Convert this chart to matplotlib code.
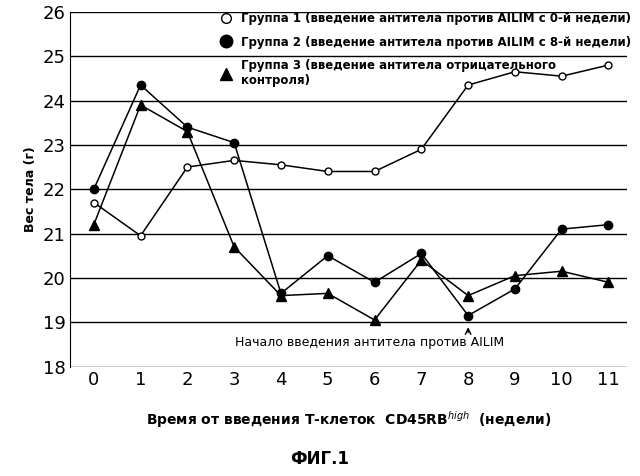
import matplotlib
matplotlib.use("Agg")
import matplotlib.pyplot as plt
from matplotlib.lines import Line2D

weeks = list(range(12))
g1 = [21.7, 20.95, 22.5, 22.65, 22.55, 22.4, 22.4, 22.9, 24.35, 24.65, 24.55, 24.8]
g2 = [22.0, 24.35, 23.4, 23.05, 19.65, 20.5, 19.9, 20.55, 19.15, 19.75, 21.1, 21.2]
g3 = [21.2, 23.9, 23.3, 20.7, 19.6, 19.65, 19.05, 20.4, 19.6, 20.05, 20.15, 19.9]
labels = ["Группа 1 (введение антитела против AILIM с 0-й недели)",
          "Группа 2 (введение антитела против AILIM с 8-й недели)",
          "Группа 3 (введение антитела отрицательного\nконтроля)"]

fig = plt.figure(figsize=(6.4, 4.76), dpi=100)
ax = fig.add_axes([0.11, 0.23, 0.87, 0.745])
ax.plot(weeks, g1, '-o', color='black', mfc='white', ms=5, lw=1.1)
ax.plot(weeks, g2, '-o', color='black', ms=6, lw=1.1)
ax.plot(weeks, g3, '-^', color='black', ms=7, lw=1.1)
ax.set_ylim(18, 26)
ax.set_xlim(-0.5, 11.4)
ax.set_xticks(weeks)
ax.set_yticks(range(18, 27))
ax.yaxis.grid(True, color='black', lw=1)
ax.spines['top'].set_visible(False)
ax.spines['right'].set_visible(False)
ax.spines['bottom'].set_visible(False)
ax.tick_params(labelsize=13, length=0)
ax.set_ylabel("Вес тела (г)", fontsize=9, fontweight='bold')
ax.set_xlabel("Время от введения Т-клеток  CD45RB$^{high}$  (недели)", fontsize=10, fontweight='bold', labelpad=14)
ax.annotate("", xy=(8, 18.95), xytext=(8, 18.7), arrowprops=dict(arrowstyle='->', color='black', lw=1))
ax.text(5.9, 18.55, "Начало введения антитела против AILIM", fontsize=9, ha='center', va='center')
handles = [Line2D([], [], ls='none', marker='o', color='black', mfc='white', ms=7),
           Line2D([], [], ls='none', marker='o', color='black', ms=9),
           Line2D([], [], ls='none', marker='^', color='black', ms=9)]
ax.legend(handles, labels, loc='upper left', bbox_to_anchor=(0.25, 1.03), frameon=False,
          prop={'weight': 'bold', 'size': 8.5}, handlelength=1.0, labelspacing=0.9)
fig.text(0.5, 0.025, "ФИГ.1", ha='center', fontsize=12, fontweight='bold')
fig.savefig("out.png", dpi=100)
